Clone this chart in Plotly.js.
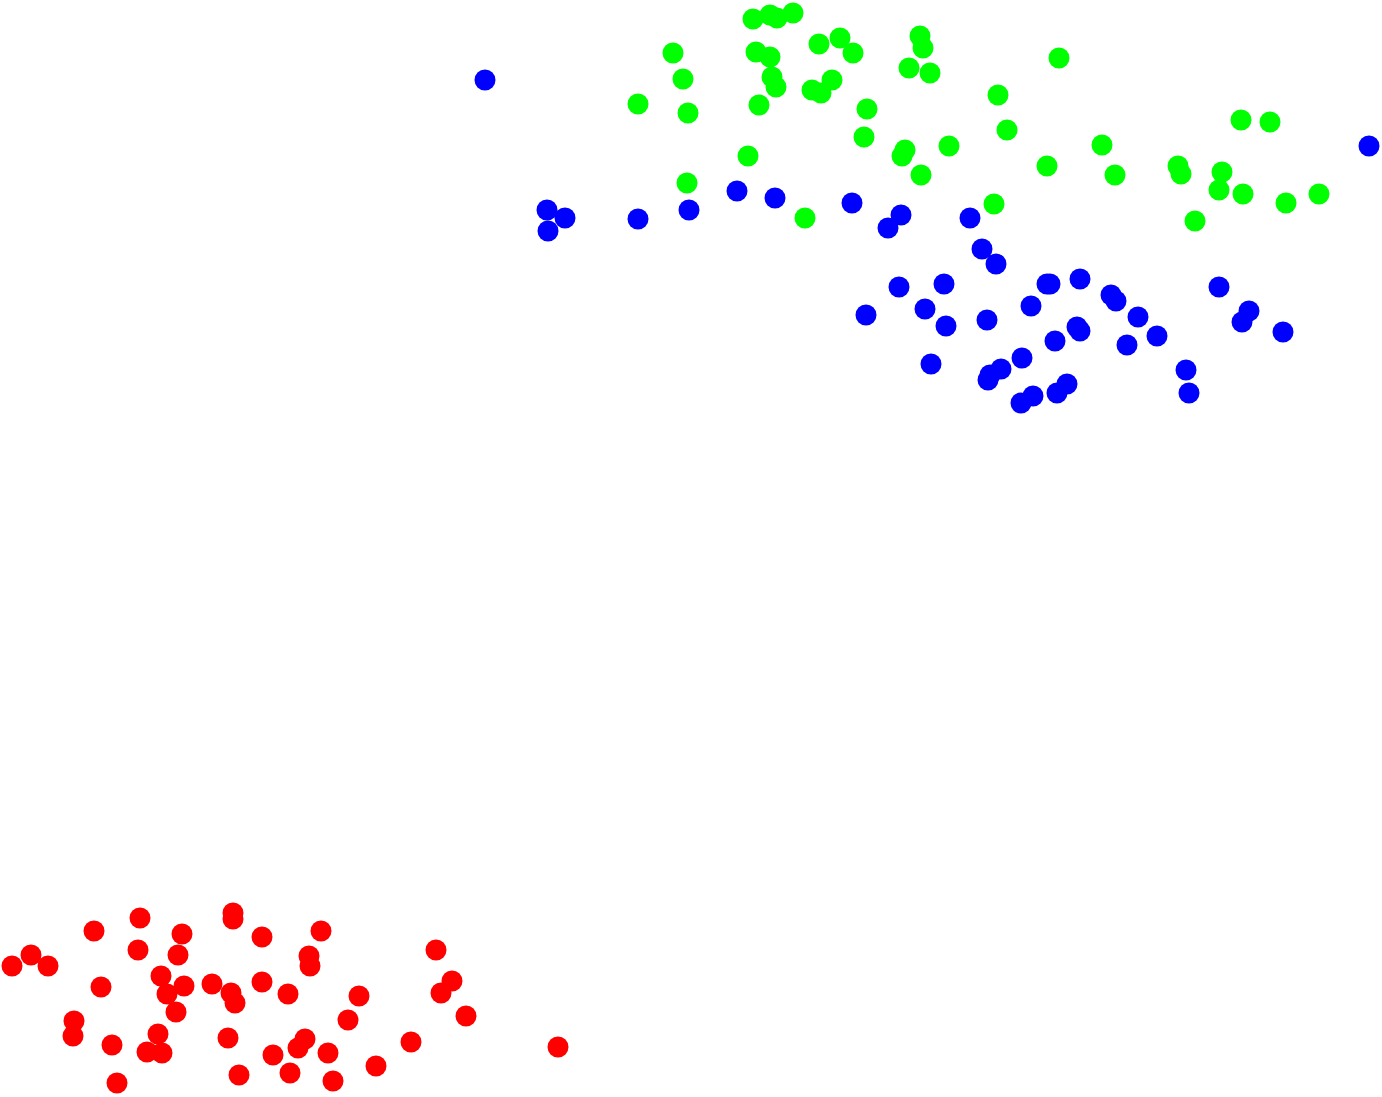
<!DOCTYPE html>
<html>
<head>
<meta charset="utf-8">
<script src="https://cdn.plot.ly/plotly-3.0.1.min.js"></script>
<style>html,body{margin:0;padding:0;background:#fff;}#chart{width:1382px;height:1097px;}</style>
</head>
<body>
<div id="chart"></div>
<script>
// Cluster A (red)
const redX = [12,31,48,94,140,138,101,74,73,112,117,147,158,162,161,167,184,176,178,182,233,233,262,212,231,235,262,228,239,273,288,290,298,305,309,310,321,328,333,348,359,376,411,436,452,441,466,558];
const redY = [966,955,966,931,918,950,987,1021,1036,1045,1083,1052,1034,1053,976,994,986,1012,955,934,913,919,937,984,993,1003,982,1038,1075,1055,994,1073,1048,1039,956,966,931,1053,1081,1020,996,1066,1042,950,981,993,1016,1047];
// Cluster B (green)
const greenX = [753,770,777,793,673,756,770,772,776,683,638,688,759,748,687,819,840,853,812,821,832,920,923,909,930,1059,998,1007,867,864,905,902,949,921,1047,994,805,1241,1270,1102,1115,1178,1181,1222,1219,1243,1286,1319,1195];
const greenY = [19,15,18,13,53,52,57,77,87,79,104,113,105,156,183,44,38,53,90,93,80,36,48,68,73,58,95,130,109,137,150,156,146,175,166,204,218,120,122,145,175,166,174,172,190,194,203,194,221];
// Cluster C (blue)
const blueX = [485,547,565,548,638,689,737,775,852,901,888,970,982,996,899,944,866,925,946,987,1047,1050,1080,1111,1116,1031,1138,1077,1080,1055,1127,1157,931,1022,1001,988,990,1067,1057,1033,1021,1219,1249,1242,1283,1186,1189,1369];
const blueY = [80,210,218,231,219,210,191,198,203,215,228,218,249,264,287,284,315,309,326,320,284,284,279,295,301,306,317,327,331,341,345,336,364,358,369,380,375,384,393,396,403,287,311,322,332,370,393,146];

function tr(x, y, color) {
  return {x: x, y: y, type: 'scatter', mode: 'markers',
    marker: {color: color, size: 21, line: {width: 0}}, hoverinfo: 'skip'};
}
const data = [tr(redX, redY, '#ff0000'), tr(greenX, greenY, '#00ff00'), tr(blueX, blueY, '#0000ff')];
const ax = {visible: false, showgrid: false, zeroline: false, fixedrange: true};
const layout = {
  width: 1382, height: 1097,
  margin: {l: 0, r: 0, t: 0, b: 0},
  showlegend: false,
  paper_bgcolor: '#ffffff', plot_bgcolor: '#ffffff',
  xaxis: Object.assign({range: [0, 1382]}, ax),
  yaxis: Object.assign({range: [1097, 0]}, ax)
};
Plotly.newPlot('chart', data, layout, {displayModeBar: false, staticPlot: true});
</script>
</body>
</html>
